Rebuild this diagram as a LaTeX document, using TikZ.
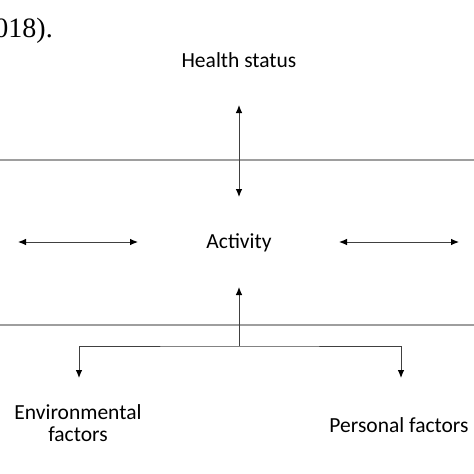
\documentclass[tikz,border=0pt]{standalone}
\usepackage{fontspec}
\setmainfont{Carlito}
\newfontfamily\citefont{Liberation Serif}
\usetikzlibrary{arrows.meta}

\begin{document}
\begin{tikzpicture}[x=1pt, y=-1pt,
		label text/.style={font=\fontsize{21.5}{22}\selectfont, inner sep=0pt, align=center},
		link/.style={line width=0.9pt, color=black!75, {Latex[length=8pt,width=6.5pt,color=black]}-{Latex[length=8pt,width=6.5pt,color=black]}},
		uplink/.style={line width=0.9pt, color=black!75, -{Latex[length=8pt,width=6.5pt,color=black]}},
		rule/.style={line width=1.5pt, color=black!38}]
			%%%%% START %%%%%
			
			\useasboundingbox (0, 0) rectangle (474, 474);
			\clip (0, 0) rectangle (474, 474);
			
			\node[anchor=base east, inner sep=0pt, font=\citefont\fontsize{28}{30}\selectfont] (cite) at (53, 37) {018).};
			
			\node[label text] (health) at (239, 60) {Health status};
			\node[label text] (activity) at (239, 243) {Activity};
			\node[label text] (env) at (78, 423) {Environmental\\factors};
			\node[label text] (pers) at (399, 425) {Personal factors};
			
			\draw[rule] (0, 160) -- (474, 160);
			\draw[rule] (0, 325) -- (474, 325);
			
			\coordinate (health end) at (239, 105);
			\coordinate (activity top) at (239, 197);
			\coordinate (activity bottom) at (239, 287);
			\coordinate (fork) at (239, 346);
			\coordinate (left a) at (18, 242);
			\coordinate (left b) at (138, 242);
			\coordinate (right a) at (339, 242);
			\coordinate (right b) at (459, 242);
			\coordinate (env end) at (79, 378);
			\coordinate (pers end) at (401, 378);
			
			\draw[link] (health end) -- (activity top);
			\draw[link] (left a) -- (left b);
			\draw[link] (right a) -- (right b);
			
			\draw[uplink] (fork) -- (activity bottom);
			\draw[link] (env end) |- (fork) -| (pers end);
			
			%%%%% END %%%%%
		\end{tikzpicture}
\end{document}
